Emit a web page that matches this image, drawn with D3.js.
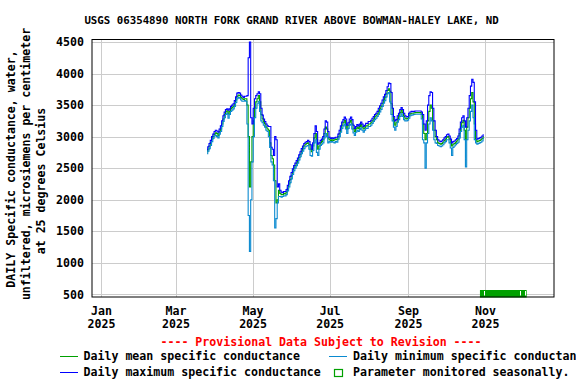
<!DOCTYPE html>
<html><head><meta charset="utf-8">
<script src="https://cdn.jsdelivr.net/npm/d3@7"></script>
<style>
html,body{margin:0;padding:0;background:#fff;}
svg text{font-family:"DejaVu Sans Mono","Liberation Mono",monospace;font-weight:bold;}
</style></head>
<body>
<svg id="c" width="576" height="384"></svg>
<script>
const title = "USGS 06354890 NORTH FORK GRAND RIVER ABOVE BOWMAN-HALEY LAKE, ND";
const yLabelLines = ["DAILY Specific conductance, water,", "unfiltered, microsiemens per centimeter", "at 25 degrees Celsius"];
const yTicks = [500,1000,1500,2000,2500,3000,3500,4000,4500];
const xTickDates = ["2025-01-01","2025-03-01","2025-05-01","2025-07-01","2025-09-01","2025-11-01"];
const xTickMonths = ["Jan","Mar","May","Jul","Sep","Nov"];
const xTickYears = ["2025","2025","2025","2025","2025","2025"];
const seriesStart = "2025-03-26";
const seasonStart = "2025-10-28";
const seasonEnd = "2025-12-04";
const seasonMarks = ["2025-10-31","2025-11-29","2025-12-03"];

const meanValues = [
2760,2800,2850,2900,2960,3000,3040,3060,3050,3020,
3080,3120,3200,3280,3350,3390,3410,3360,3400,3440,
3460,3480,3520,3580,3640,3660,3650,3620,3600,3590,
3600,3600,3500,3000,2200,2600,3000,3250,3450,3550,
3600,3650,3550,3350,3280,3230,3200,3150,3120,3100,
2900,2700,2650,2550,2300,1950,2000,2150,2100,2080,
2080,2100,2090,2120,2180,2250,2320,2380,2440,2500,
2540,2580,2620,2670,2720,2770,2810,2850,2880,2890,
2900,2870,2800,2760,2850,2980,3050,2950,2800,2850,
2900,2920,2950,3050,3150,3120,2980,2950,2940,2950,
2940,2950,2960,2950,3000,3050,3120,3180,3220,3260,
3200,3120,3180,3230,3260,3200,3120,3080,3120,3150,
3130,3160,3190,3150,3120,3140,3170,3170,3200,3200,
3220,3250,3280,3310,3330,3360,3400,3440,3480,3530,
3580,3620,3680,3730,3760,3720,3520,3350,3250,3180,
3220,3280,3320,3380,3420,3380,3320,3290,3280,3290,
3330,3360,3370,3370,3375,3380,3380,3380,3380,3380,
3350,3200,3050,2950,3050,3250,3400,3500,3450,3250,
3100,3000,2950,2900,2890,2880,2890,2910,2940,2960,
2990,3000,2960,2900,2850,2880,2890,2910,2930,2960,
3050,3150,3220,3260,3100,2950,3150,3300,3450,3600,
3700,3550,3200,2950,2920,2930,2940,2950,2970,3000];

const maxValues = [
2790,2840,2890,2940,3000,3040,3080,3100,3090,3070,
3120,3170,3250,3330,3390,3430,3440,3420,3440,3480,
3500,3520,3570,3630,3690,3700,3690,3660,3640,3620,
3640,3640,3650,4250,4500,3300,3200,3450,3600,3650,
3680,3710,3680,3450,3340,3280,3240,3200,3170,3160,
3160,2830,2800,2700,3000,2950,2200,2250,2150,2120,
2110,2130,2130,2160,2230,2300,2370,2430,2490,2540,
2580,2620,2660,2710,2760,2810,2850,2890,2910,2920,
2940,2920,2870,2800,2900,3050,3170,3080,2880,2900,
2940,2960,3000,3120,3250,3230,3080,2990,2970,2980,
2970,2980,2990,2990,3040,3100,3170,3230,3270,3310,
3280,3180,3220,3280,3310,3270,3180,3130,3160,3190,
3170,3200,3230,3200,3160,3180,3210,3210,3240,3240,
3260,3290,3320,3350,3370,3400,3450,3490,3530,3580,
3630,3670,3730,3790,3850,3840,3700,3450,3320,3250,
3270,3330,3370,3430,3460,3430,3370,3330,3310,3320,
3370,3390,3400,3395,3400,3405,3405,3405,3405,3405,
3390,3350,3200,3100,3250,3500,3650,3710,3700,3450,
3250,3100,3000,2950,2930,2920,2930,2950,2980,3000,
3030,3040,3010,2960,2900,2920,2930,2950,2970,3010,
3120,3230,3300,3330,3250,3150,3300,3450,3650,3800,
3910,3860,3550,3100,2960,2970,2980,2990,3010,3030];

const minValues = [
2730,2770,2810,2860,2920,2970,3010,3020,3000,2980,
3040,3080,3160,3240,3300,3350,3370,3290,3350,3400,
3420,3440,3480,3540,3600,3620,3610,3580,3560,3560,
3570,3560,3200,1750,1180,2000,2600,3000,3300,3450,
3520,3560,3400,3250,3220,3180,3150,3100,3080,3000,
2830,2600,2550,2300,1550,1700,1950,2050,2050,2040,
2050,2060,2060,2080,2140,2200,2270,2330,2400,2460,
2500,2540,2580,2630,2680,2730,2770,2810,2840,2850,
2860,2800,2700,2690,2780,2900,2950,2750,2700,2800,
2860,2880,2900,2980,3050,3000,2900,2920,2910,2920,
2910,2900,2920,2910,2960,3000,3070,3130,3170,3200,
3120,3050,3130,3180,3200,3120,3060,3020,3070,3100,
3080,3110,3140,3100,3070,3100,3130,3130,3160,3160,
3180,3210,3240,3270,3290,3320,3350,3390,3430,3480,
3530,3570,3630,3680,3700,3550,3350,3250,3150,3100,
3160,3230,3270,3320,3360,3320,3270,3250,3250,3260,
3290,3330,3340,3345,3350,3355,3355,3355,3355,3355,
3280,2950,2900,2500,2900,3050,3200,3300,3250,3100,
2950,2900,2890,2860,2850,2840,2850,2870,2900,2920,
2950,2950,2900,2820,2700,2830,2850,2870,2890,2910,
2980,3080,3150,3180,2950,2520,2950,3100,3250,3400,
3500,3300,2950,2900,2880,2890,2900,2910,2930,2970];

const legendItems = ["Daily mean specific conductance","Daily minimum specific conductance","Daily maximum specific conductance","Parameter monitored seasonally."];
const provisionalText = "---- Provisional Data Subject to Revision ----";

const colMean = "#00a000", colMin = "#0a8ad0", colMax = "#0000ff", colSeason = "#00a000";
const parse = d3.utcParse("%Y-%m-%d");
const svg = d3.select("#c");

const plot = {left: 92, right: 554, top: 39.5, bottom: 297};
const x = d3.scaleUtc().domain([parse("2025-01-01"), parse("2025-11-01")]).range([101, 485]);
const y = d3.scaleLinear().domain([500, 4500]).range([294.3, 42]);

// gridlines via axes
const gx = svg.append("g").attr("transform", `translate(0,${plot.bottom})`)
  .call(d3.axisBottom(x).tickValues(xTickDates.map(parse)).tickSize(-(plot.bottom - plot.top)).tickFormat(""));
gx.select(".domain").remove();
gx.selectAll("line").attr("stroke", "#cccccc").attr("stroke-width", 1).attr("shape-rendering","crispEdges");
const gy = svg.append("g").attr("transform", `translate(${plot.left},0)`)
  .call(d3.axisLeft(y).tickValues(yTicks).tickSize(-(plot.right - plot.left)).tickFormat(""));
gy.select(".domain").remove();
gy.selectAll("line").attr("stroke", "#cccccc").attr("stroke-width", 1).attr("shape-rendering","crispEdges");

// y tick labels
const gyl = svg.append("g").attr("transform", `translate(84,0)`)
  .call(d3.axisLeft(y).tickValues(yTicks).tickSize(0).tickPadding(0).tickFormat(d3.format("d")));
gyl.select(".domain").remove();
gyl.selectAll("text").attr("font-size", 11.6).attr("fill", "#000").attr("font-family","DejaVu Sans Mono").attr("font-weight","bold");

// x tick labels
const gxl = svg.append("g").attr("transform", `translate(0,${plot.bottom})`)
  .call(d3.axisBottom(x).tickValues(xTickDates.map(parse)).tickSize(0).tickFormat(""));
gxl.select(".domain").remove();
gxl.selectAll(".tick").each(function(d, i) {
  const t = d3.select(this).append("text").attr("fill", "#000").attr("font-size", 11.6).attr("text-anchor", "middle");
  t.append("tspan").attr("x", 0).attr("y", 18).text(xTickMonths[i]);
  t.append("tspan").attr("x", 0).attr("y", 31).text(xTickYears[i]);
});

// seasonal bar
svg.append("rect").attr("x", x(parse(seasonStart))).attr("y", 290)
  .attr("width", x(parse(seasonEnd)) - x(parse(seasonStart))).attr("height", 7.5)
  .attr("fill", colSeason);
svg.selectAll(".smark").data(seasonMarks).enter().append("line")
  .attr("x1", d => Math.round(x(parse(d))) + 0.5).attr("x2", d => Math.round(x(parse(d))) + 0.5)
  .attr("y1", 291).attr("y2", 295.5).attr("stroke", "#fff").attr("stroke-width", 1);

// series
const start = parse(seriesStart);
const dates = meanValues.map((_, i) => d3.utcDay.offset(start, i));
const line = d3.line().x((d, i) => x(dates[i])).y(d => y(d)).curve(d3.curveStep);
const clip = svg.append("clipPath").attr("id","pc").append("rect")
  .attr("x", plot.left).attr("y", plot.top).attr("width", plot.right-plot.left).attr("height", plot.bottom-plot.top);
const gl = svg.append("g").attr("clip-path","url(#pc)");
[[meanValues, colMean], [maxValues, colMax], [minValues, colMin]].forEach(([vals, col]) => {
  gl.append("path").attr("d", line(vals)).attr("fill", "none").attr("stroke", col).attr("stroke-width", 1.1);
});

// frame
svg.append("rect").attr("x", plot.left).attr("y", plot.top).attr("width", plot.right - plot.left)
  .attr("height", plot.bottom - plot.top).attr("fill", "none").attr("stroke", "#000").attr("stroke-width", 1);

// title
svg.append("text").attr("x", 291.5).attr("y", 24).attr("text-anchor", "middle").attr("font-size", 10.75).attr("fill","#000").text(title);

// y label
const ylCenters = [[11, 169], [26, 164], [41, 181]];
yLabelLines.forEach((s, i) => {
  svg.append("text").attr("transform", `translate(${ylCenters[i][0] + 4},${ylCenters[i][1]}) rotate(-90)`)
    .attr("text-anchor", "middle").attr("font-size", 11.6).attr("fill", "#000").text(s);
});

// provisional
svg.append("text").attr("x", 321).attr("y", 346).attr("text-anchor", "middle").attr("font-size", 11.6).attr("fill", "#ff0000").text(provisionalText);

// legend
svg.append("line").attr("x1", 60).attr("x2", 78).attr("y1", 356.5).attr("y2", 356.5).attr("stroke", colMean).attr("stroke-width", 1);
svg.append("text").attr("x", 83.5).attr("y", 360).attr("font-size", 11.6).attr("fill","#000").text(legendItems[0]);
svg.append("line").attr("x1", 329).attr("x2", 347).attr("y1", 356.5).attr("y2", 356.5).attr("stroke", colMin).attr("stroke-width", 1);
svg.append("text").attr("x", 353).attr("y", 360).attr("font-size", 11.6).attr("fill","#000").text(legendItems[1]);
svg.append("line").attr("x1", 60).attr("x2", 78).attr("y1", 372.5).attr("y2", 372.5).attr("stroke", colMax).attr("stroke-width", 1);
svg.append("text").attr("x", 83.5).attr("y", 376).attr("font-size", 11.6).attr("fill","#000").text(legendItems[2]);
svg.append("rect").attr("x", 334.5).attr("y", 369.5).attr("width", 8).attr("height", 7).attr("fill", "none").attr("stroke", colSeason).attr("stroke-width", 1.2);
svg.append("text").attr("x", 353).attr("y", 376).attr("font-size", 11.6).attr("fill","#000").text(legendItems[3]);
</script>
</body></html>
